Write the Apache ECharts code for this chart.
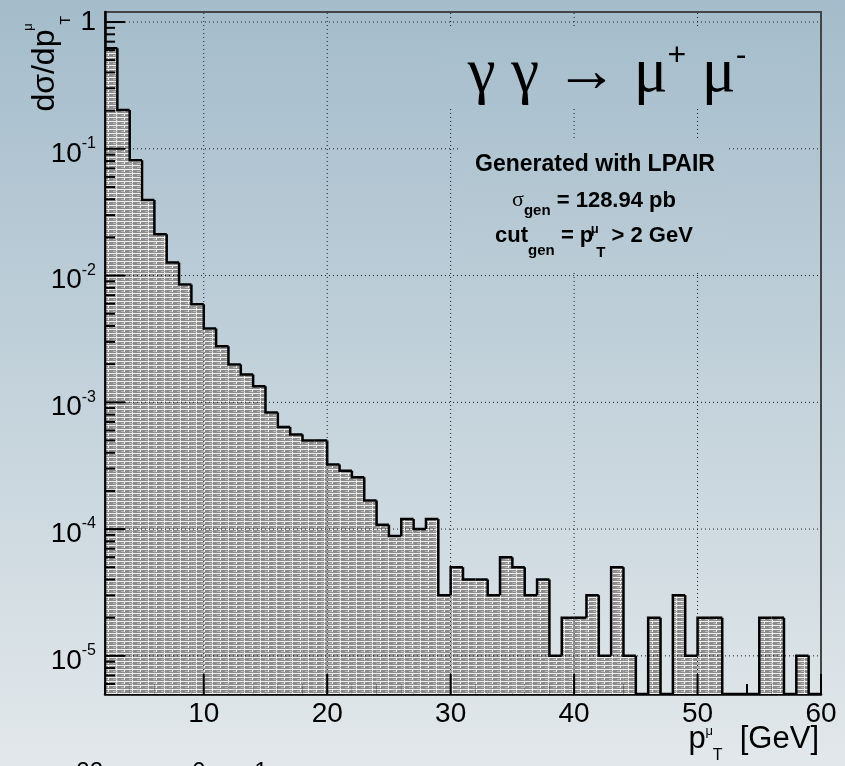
<!DOCTYPE html>
<html>
<head>
<meta charset="utf-8">
<script src="https://cdn.jsdelivr.net/npm/echarts@6.0.0/dist/echarts.min.js"></script>
<style>
html,body{margin:0;padding:0;background:#c4d2da;}
#chart{width:845px;height:766px;}
</style>
</head>
<body>
<div id="chart"></div>
<script>
// ---------------- data ----------------
const binStart = [2,3,4,5,6,7,8,9,10,11,12,13,14,15,16,17,18,19,20,21,22,23,24,25,26,27,28,29,30,
                  31,32,33,34,35,36,37,38,39,40,41,42,43,44,45,46,47,48,49,50,51,52,53,54,55,56,57,58,59];
const binWidth = 1;
const dSigmaDpT = [
  0.62, 0.202, 0.0814, 0.0394, 0.0212, 0.0127, 0.0085, 0.00595, 0.00382, 0.00277,
  0.00199, 0.00166, 0.00134, 0.00083, 0.00064, 0.000557, 0.0005, 0.0005, 0.000323, 0.000289,
  0.000256, 0.000168, 0.000108, 0.000088, 0.00012, 0.0001, 0.00012, 0.00003, 0.00005, 0.00004,
  0.00004, 0.00003, 0.00006, 0.00005, 0.00003, 0.00004, 0.00001, 0.00002, 0.00002, 0.00003,
  0.00001, 0.00005, 0.00001, 0, 0.00002, 0, 0.00003, 0.00001, 0.00002, 0.00002,
  0, 0, 0, 0.00002, 0.00002, 0, 0.00001, 0
];
const xMajorTicks = [10,20,30,40,50,60];
const xGridLines = [10,20,30,40,50];
const yDecades = [1e-5,1e-4,1e-3,1e-2,1e-1,1];
const yTickLabels = ['{b|10}{s|-5}','{b|10}{s|-4}','{b|10}{s|-3}','{b|10}{s|-2}','{b|10}{s|-1}','{n|1}'];
const yMinorMultipliers = [2,3,4,5,6,7,8,9];
const yMinorDecades = [1e-6,1e-5,1e-4,1e-3,1e-2,1e-1];
const X_MIN = 2, X_MAX = 60, Y_MIN = 5e-6, Y_MAX = 1.2;

// ---------------- styles ----------------
const SANS = 'Liberation Sans, Arial, Helvetica, sans-serif';
const SERIF = 'Liberation Serif, DejaVu Serif, Times New Roman, serif';
const BG0 = [164,188,203], BG1 = [226,232,235], H = 766;
function bgAt(y){
  const t = Math.max(0, Math.min(1, y / H));
  const c = BG0.map((v,k)=>Math.round(v + (BG1[k]-v)*t));
  return 'rgb(' + c.join(',') + ')';
}
function gradFor(y1,y2){
  return {type:'linear',x:0,y:0,x2:0,y2:1,colorStops:[{offset:0,color:bgAt(y1)},{offset:1,color:bgAt(y2)}]};
}
function makeHatch(){
  const c = document.createElement('canvas');
  c.width = 16; c.height = 4;
  const g = c.getContext('2d');
  g.fillStyle = '#8c8c8c'; g.fillRect(0,0,16,4);
  g.fillStyle = '#f0f0f0';
  g.fillRect(0,1,16,1);
  g.fillStyle = '#b8b8b8';
  g.fillRect(1,3,4,1); g.fillRect(9,3,4,1);
  g.fillStyle = '#ececec';
  g.fillRect(4,0,1,3);
  g.fillRect(12,1,1,3);
  return c;
}
const hatch = {image: makeHatch(), repeat: 'repeat'};

// ---------------- render functions ----------------
function renderBin(params, api){
  const i = params.dataIndex;
  const lo = api.value(0), hi = api.value(1), v = api.value(2);
  const base = api.coord([lo, Y_MIN]);
  const right = api.coord([hi, Y_MIN]);
  const yOf = val => (val > 0 ? api.coord([lo, val])[1] : base[1]);
  const yTop = yOf(v);
  const yPrev = yOf(i > 0 ? dSigmaDpT[i-1] : 0);
  const children = [];
  if (v > 0) {
    children.push({type:'rect', shape:{x:base[0], y:yTop, width:right[0]-base[0], height:base[1]-yTop},
                   style:{fill:hatch}});
  }
  const pts = [[base[0], yPrev], [base[0], yTop], [right[0], yTop]];
  if (i === dSigmaDpT.length - 1) pts.push([right[0], base[1]]);
  children.push({type:'polyline', shape:{points:pts}, style:{stroke:'#000', lineWidth:2.5, fill:null}});
  return {type:'group', children};
}

function renderDecor(params, api){
  const ch = [];
  const P = (x,y) => api.coord([x,y]);
  const x0 = P(X_MIN,Y_MIN)[0], yB = P(X_MIN,Y_MIN)[1];
  const x1 = P(X_MAX,Y_MIN)[0], yT = P(X_MIN,Y_MAX)[1];
  const gridStyle = {stroke:'#1e1e1e', lineWidth:1, lineDash:[1,3], fill:null};
  const tickStyle = {stroke:'#000', lineWidth:2, fill:null};
  xGridLines.forEach(v => {
    const px = P(v, Y_MIN)[0];
    ch.push({type:'line', shape:{x1:px,y1:yB,x2:px,y2:yT}, style:gridStyle});
  });
  yDecades.forEach(v => {
    const py = P(X_MIN, v)[1];
    ch.push({type:'line', shape:{x1:x0,y1:py,x2:x1,y2:py}, style:gridStyle});
  });
  xMajorTicks.forEach(v => {
    const px = P(v, Y_MIN)[0];
    ch.push({type:'line', shape:{x1:px,y1:yB,x2:px,y2:yB-20}, style:tickStyle});
  });
  yDecades.forEach(v => {
    const py = P(X_MIN, v)[1];
    ch.push({type:'line', shape:{x1:x0,y1:py,x2:x0+20,y2:py}, style:tickStyle});
  });
  yMinorDecades.forEach(d => {
    yMinorMultipliers.forEach(m => {
      const val = m * d;
      if (val > Y_MIN && val < Y_MAX) {
        const py = P(X_MIN, val)[1];
        ch.push({type:'line', shape:{x1:x0,y1:py,x2:x0+10,y2:py}, style:tickStyle});
      }
    });
  });
  yDecades.forEach((v,k) => {
    const py = P(X_MIN, v)[1];
    ch.push({type:'text', x:x0-9, y:py, style:{
      text: yTickLabels[k], align:'right', verticalAlign:'middle', textAlign:'right', textVerticalAlign:'middle',
      rich: {
        b:{fontSize:28, fontFamily:SANS, fill:'#000', padding:[10,0,0,0], verticalAlign:'middle'},
        s:{fontSize:16, fontFamily:SANS, fill:'#000', padding:[0,0,10,0], verticalAlign:'middle'},
        n:{fontSize:28, fontFamily:SANS, fill:'#000', verticalAlign:'middle'}
      }
    }});
  });
  return {type:'group', children: ch};
}

// ---------------- chart ----------------
const chart = echarts.init(document.getElementById('chart'), null, {renderer:'canvas'});
const option = {
  animation: false,
  backgroundColor: {type:'linear',x:0,y:0,x2:0,y2:1,colorStops:[{offset:0,color:bgAt(0)},{offset:1,color:bgAt(H)}]},
  textStyle: {fontFamily: SANS},
  grid: {left:105, right:24, top:12, bottom:72, show:true, borderColor:'#444', borderWidth:2, backgroundColor:'transparent'},
  xAxis: {
    type:'value', min:X_MIN, max:X_MAX, interval:2,
    axisLine:{show:true, onZero:false, lineStyle:{color:'#000', width:2.5}},
    axisTick:{show:true, inside:true, length:10, lineStyle:{color:'#000', width:2}},
    axisLabel:{show:true, margin:6, fontSize:28, color:'#000', fontFamily:SANS,
               formatter: v => (xMajorTicks.indexOf(v) >= 0 ? String(v) : '')},
    splitLine:{show:false}
  },
  yAxis: {
    type:'log', logBase:10, min:Y_MIN, max:Y_MAX,
    axisLine:{show:true, onZero:false, lineStyle:{color:'#000', width:2.5}},
    axisTick:{show:false}, axisLabel:{show:false}, splitLine:{show:false}, minorTick:{show:false}
  },
  series: [
    {
      type:'custom', name:'dsigma', coordinateSystem:'cartesian2d', z:2, clip:true, silent:true,
      data: binStart.map((s,i) => [s, s + binWidth, dSigmaDpT[i]]),
      encode: {x:[0,1], y:2},
      renderItem: renderBin
    },
    {
      type:'custom', name:'decor', coordinateSystem:'cartesian2d', z:5, silent:true,
      data: [[X_MIN, Y_MIN]],
      encode: {x:0, y:1},
      renderItem: renderDecor
    }
  ],
  graphic: [
    {type:'rect', z:100, silent:true, shape:{x:440,y:27,width:360,height:80}, style:{fill:gradFor(27,107)}},
    {type:'rect', z:100, silent:true, shape:{x:460,y:140,width:268,height:131}, style:{fill:gradFor(140,271)}},
    {type:'text', z:110, x:607, y:74, style:{
      text:'{g|γ γ → μ}{p|+}{g| μ}{p|-}', align:'center', verticalAlign:'middle', textAlign:'center', textVerticalAlign:'middle',
      rich:{
        g:{fontSize:63, fontFamily:SERIF, fill:'#000', verticalAlign:'middle'},
        p:{fontSize:32, fontFamily:SANS, fill:'#000', padding:[0,0,36,0], verticalAlign:'middle'}
      }}},
    {type:'text', z:110, x:595, y:165, style:{
      text:'Generated with LPAIR', align:'center', verticalAlign:'middle', textAlign:'center', textVerticalAlign:'middle',
      fontSize:23, fontWeight:'bold', fontFamily:SANS, fill:'#000'}},
    {type:'text', z:110, x:594, y:200.6, style:{
      text:'{s|σ}{sub|gen}{b| = 128.94 pb}', align:'center', verticalAlign:'middle', textAlign:'center', textVerticalAlign:'middle',
      rich:{
        s:{fontSize:22, fontFamily:SERIF, fill:'#000', verticalAlign:'middle'},
        sub:{fontSize:15, fontWeight:'bold', fontFamily:SANS, fill:'#000', padding:[20,0,0,0], verticalAlign:'middle'},
        b:{fontSize:22, fontWeight:'bold', fontFamily:SANS, fill:'#000', verticalAlign:'middle'}
      }}},
    {type:'text', z:110, x:594, y:235.6, style:{
      text:'{b|cut}{sub|gen}{b| = p}{sup|μ}{sub2|T}{b| > 2 GeV}', align:'center', verticalAlign:'middle', textAlign:'center', textVerticalAlign:'middle',
      rich:{
        b:{fontSize:22, fontWeight:'bold', fontFamily:SANS, fill:'#000', verticalAlign:'middle'},
        sub:{fontSize:15, fontWeight:'bold', fontFamily:SANS, fill:'#000', padding:[30,0,0,0], verticalAlign:'middle'},
        sup:{fontSize:13, fontWeight:'bold', fontFamily:SANS, fill:'#000', width:1, align:'left', padding:[0,0,12,1], verticalAlign:'middle'},
        sub2:{fontSize:15, fontWeight:'bold', fontFamily:SANS, fill:'#000', padding:[34,0,0,1], verticalAlign:'middle'}
      }}},
    {type:'text', z:110, x:45, y:16, rotation:Math.PI/2, style:{
      text:'{b|dσ/dp}{sup|μ}{sub|T}', align:'right', verticalAlign:'middle', textAlign:'right', textVerticalAlign:'middle',
      rich:{
        b:{fontSize:32, fontFamily:SANS, fill:'#000', verticalAlign:'middle'},
        sup:{fontSize:13, fontFamily:SANS, fill:'#000', width:1, align:'left', padding:[0,0,34,2], verticalAlign:'middle'},
        sub:{fontSize:14, fontFamily:SANS, fill:'#000', padding:[42,0,0,2], verticalAlign:'middle'}
      }}},
    {type:'text', z:110, x:819, y:739.4, style:{
      text:'{b|p}{sup|μ}{sub|T}{b|  [GeV]}', align:'right', verticalAlign:'middle', textAlign:'right', textVerticalAlign:'middle',
      rich:{
        b:{fontSize:31, fontFamily:SANS, fill:'#000', verticalAlign:'middle'},
        sup:{fontSize:13, fontFamily:SANS, fill:'#000', width:1, align:'left', padding:[0,0,16,3], verticalAlign:'middle'},
        sub:{fontSize:16, fontFamily:SANS, fill:'#000', padding:[32,0,0,3], verticalAlign:'middle'}
      }}},
    {type:'text', z:110, x:103, y:760, style:{text:'22', align:'right', verticalAlign:'top', textAlign:'right', textVerticalAlign:'top', fontSize:24, fontFamily:SANS, fill:'#000'}},
    {type:'text', z:110, x:199, y:760, style:{text:'0', align:'center', verticalAlign:'top', textAlign:'center', textVerticalAlign:'top', fontSize:24, fontFamily:SANS, fill:'#000'}},
    {type:'text', z:110, x:261, y:760, style:{text:'1', align:'center', verticalAlign:'top', textAlign:'center', textVerticalAlign:'top', fontSize:24, fontFamily:SANS, fill:'#000'}}
  ]
};
chart.setOption(option);
</script>
</body>
</html>
